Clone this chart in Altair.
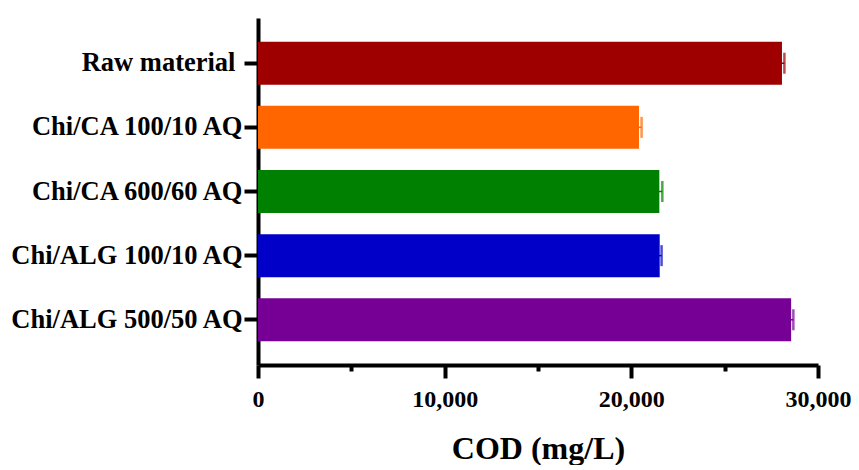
import altair as alt
import pandas as pd

categories = ["Raw material", "Chi/CA 100/10 AQ", "Chi/CA 600/60 AQ", "Chi/ALG 100/10 AQ", "Chi/ALG 500/50 AQ"]
cod_values = [28070, 20410, 21500, 21520, 28560]
cod_errors = [130, 140, 160, 100, 120]
bar_colors = ["#9E0000", "#FF6600", "#008000", "#0000C8", "#760096"]

df = pd.DataFrame({"cat": categories, "cod": cod_values, "err": cod_errors})
df["lo"] = df["cod"] - df["err"]
df["hi"] = df["cod"] + df["err"]

FONT = "Liberation Serif"

y_enc = alt.Y("cat:N", sort=categories,
              scale=alt.Scale(paddingInner=0.33, paddingOuter=0.37),
              axis=alt.Axis(title=None, domainWidth=4, domainColor="black",
                            tickSize=14, tickWidth=4, tickColor="black",
                            labelPadding={"condition": {"test": "datum.value === 'Raw material'", "value": 9}, "value": 2},
                            labelLimit=0, labelFont=FONT, labelFontSize=26.5,
                            labelFontWeight="bold", labelColor="black"))
color_enc = alt.Color("cat:N", sort=categories,
                      scale=alt.Scale(domain=categories, range=bar_colors), legend=None)

bars = alt.Chart(df).mark_bar().encode(
    x=alt.X("cod:Q", scale=alt.Scale(domain=[0, 30000], nice=False),
            axis=alt.Axis(title="COD (mg/L)", values=[0, 5000, 10000, 15000, 20000, 25000, 30000],
                          labelExpr="datum.value % 10000 === 0 ? format(datum.value, ',') : ''",
                          tickSize={"condition": {"test": "datum.value % 10000 === 0", "value": 13}, "value": 6},
                          tickWidth=4, tickColor="black", domainWidth=4, domainColor="black",
                          labelFlush=False, labelOverlap=False,
                          labelFont=FONT, labelFontSize=24, labelFontWeight="bold", labelColor="black",
                          labelPadding=9, titleFont=FONT, titleFontSize=32, titleFontWeight="bold",
                          titleColor="black", titlePadding=22, grid=False)),
    y=y_enc,
    color=color_enc,
)

err_line = alt.Chart(df).mark_rule(strokeWidth=1.5).encode(
    x="lo:Q", x2="hi:Q", y=alt.Y("cat:N", sort=categories), color=color_enc)
err_cap = alt.Chart(df).mark_tick(thickness=2.5, size=21).encode(
    x="hi:Q", y=alt.Y("cat:N", sort=categories), color=color_enc)

chart = (bars + err_line + err_cap).properties(
    width=560, height=347,
    background="white",
    autosize=alt.AutoSizeParams(type="none"),
    padding={"left": 250, "top": 10, "right": 33, "bottom": 100},
).configure_view(stroke=None)

chart.save("out.html", embed_options={"renderer": "svg", "actions": False})
